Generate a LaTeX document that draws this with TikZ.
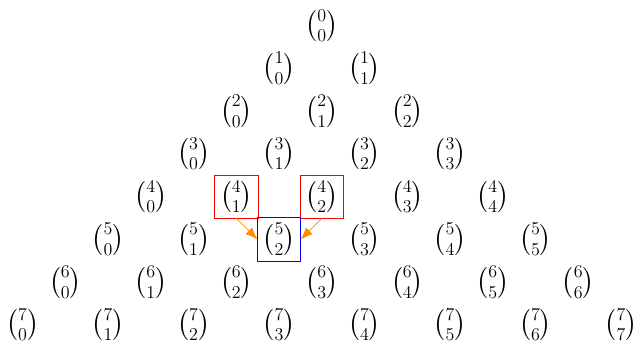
\documentclass[tikz,border=0pt]{standalone}
\usepackage{amsmath}
\usetikzlibrary{arrows.meta}
\definecolor{arrorange}{RGB}{255,140,0}
\begin{document}
\begin{tikzpicture}[
  bn/.style={minimum size=1cm, inner sep=0pt, font=\LARGE},
  redbox/.style={draw=red, line width=0.5pt},
  bluebox/.style={draw=blue, line width=0.5pt},
  conn/.style={draw=arrorange, line width=0.5pt, -{Latex[length=2.8mm,width=2.2mm]}}
]
\useasboundingbox (-7.53,0.6) rectangle (7.35,-7.38);
\foreach \n in {0,...,7}{
  \foreach \k in {0,...,\n}{
    \node[bn] (n\n k\k) at ({2*\k-\n},-\n) {$\binom{\n}{\k}$};
  }
}
\draw[redbox] (n4k1.south west) rectangle (n4k1.north east);
\draw[redbox] (n4k2.south west) rectangle (n4k2.north east);
\draw[bluebox] (n5k2.south west) rectangle (n5k2.north east);
\draw[conn] (n4k1.south) -- (n5k2.west);
\draw[conn] (n4k2.south) -- (n5k2.east);
\end{tikzpicture}
\end{document}
